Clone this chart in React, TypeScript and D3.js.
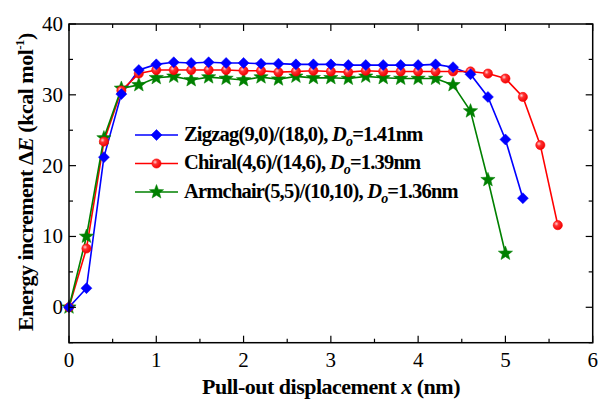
import React from "react";
import * as d3 from "d3";

const xs = [0, 0.2, 0.4, 0.6, 0.8, 1.0, 1.2, 1.4, 1.6, 1.8, 2.0, 2.2, 2.4, 2.6, 2.8, 3.0, 3.2, 3.4, 3.6, 3.8, 4.0, 4.2, 4.4, 4.6, 4.8, 5.0, 5.2, 5.4, 5.6];
const zigzag = [0, 2.7, 21.2, 30.1, 33.5, 34.3, 34.6, 34.5, 34.6, 34.5, 34.5, 34.4, 34.4, 34.3, 34.3, 34.3, 34.2, 34.2, 34.2, 34.2, 34.2, 34.3, 33.9, 32.9, 29.7, 23.7, 15.4];
const chiral = [0, 8.3, 23.4, 30.6, 33.0, 33.5, 33.5, 33.5, 33.5, 33.5, 33.4, 33.4, 33.2, 33.3, 33.4, 33.3, 33.2, 33.4, 33.3, 33.3, 33.3, 33.3, 33.3, 33.3, 33.0, 32.3, 29.7, 22.9, 11.6];
const armchair = [0, 10.0, 23.9, 30.9, 31.4, 32.4, 32.6, 32.1, 32.5, 32.3, 32.1, 32.5, 32.2, 32.6, 32.4, 32.4, 32.3, 32.6, 32.4, 32.3, 32.3, 32.3, 31.4, 27.7, 18.0, 7.6];
const xTicks = [0, 1, 2, 3, 4, 5, 6];
const yTicks = [0, 10, 20, 30, 40];

const L = 69, R = 592.7, T = 24, B = 342.7;
const FONT = '"Liberation Serif"';

function starPath(cx: number, cy: number, ro: number, ri: number) {
  const pts: string[] = [];
  for (let i = 0; i < 10; i++) {
    const r = i % 2 === 0 ? ro : ri;
    const a = -Math.PI / 2 + (i * Math.PI) / 5;
    pts.push(`${cx + r * Math.cos(a)},${cy + r * Math.sin(a)}`);
  }
  return "M" + pts.join("L") + "Z";
}

function Marker({ kind, x, y }: { kind: string; x: number; y: number }) {
  if (kind === "diamond") {
    const s = 5.5;
    return <path d={`M${x},${y - s}L${x + s},${y}L${x},${y + s}L${x - s},${y}Z`} fill="#0000ff" stroke="#0000ff" strokeWidth={0.5} />;
  }
  if (kind === "circle") {
    return <circle cx={x} cy={y} r={4.6} fill="url(#redball)" stroke="#ff0000" strokeWidth={0.6} />;
  }
  return <path d={starPath(x, y, 7.5, 3.2)} fill="#008000" stroke="#008000" strokeWidth={0.5} />;
}

export default function App() {
  const x = d3.scaleLinear().domain([0, 6]).range([L, R]);
  const y = d3.scaleLinear().domain([-5, 40]).range([B, T]);
  const series = [
    { name: "Zigzag(9,0)/(18,0), ", d: "1.41nm", vals: zigzag, color: "#0000ff", kind: "diamond" },
    { name: "Chiral(4,6)/(14,6), ", d: "1.39nm", vals: chiral, color: "#ff0000", kind: "circle" },
    { name: "Armchair(5,5)/(10,10), ", d: "1.36nm", vals: armchair, color: "#008000", kind: "star" },
  ];
  const line = d3.line<number>().x((_, i) => x(xs[i])).y((v) => y(v));
  const xMinor = d3.range(0, 6.01, 0.5);
  const yMinor = d3.range(-5, 40.01, 5);
  const tf = { fontFamily: FONT };
  return (
    <svg width={601} height={403} style={{ position: "absolute", left: 0, top: 0, background: "#fff" }}>
      <defs>
        <radialGradient id="redball" cx="0.35" cy="0.35" r="0.7">
          <stop offset="0" stopColor="#ffd0d0" />
          <stop offset="0.35" stopColor="#ff3030" />
          <stop offset="1" stopColor="#ee0000" />
        </radialGradient>
      </defs>
      {series.map((s) => (
        <path key={s.name + "l"} d={line(s.vals) || ""} fill="none" stroke={s.color} strokeWidth={1.6} />
      ))}
      {[series[2], series[1], series[0]].map((s) =>
        s.vals.map((v, i) => <Marker key={s.name + i} kind={s.kind} x={x(xs[i])} y={y(v)} />)
      )}
      <rect x={L} y={T} width={R - L} height={B - T} fill="none" stroke="#000" strokeWidth={1.5} />
      {xMinor.map((t) => {
        const major = Math.abs(t - Math.round(t)) < 1e-6;
        const len = major ? 7 : 4;
        return (
          <g key={"xt" + t}>
            <line x1={x(t)} x2={x(t)} y1={B} y2={B - len} stroke="#000" strokeWidth={1.2} />
            <line x1={x(t)} x2={x(t)} y1={T} y2={T + len} stroke="#000" strokeWidth={1.2} />
          </g>
        );
      })}
      {yMinor.map((t) => {
        const major = t % 10 === 0;
        const len = major ? 7 : 4;
        return (
          <g key={"yt" + t}>
            <line x1={L} x2={L + len} y1={y(t)} y2={y(t)} stroke="#000" strokeWidth={1.2} />
            <line x1={R} x2={R - len} y1={y(t)} y2={y(t)} stroke="#000" strokeWidth={1.2} />
          </g>
        );
      })}
      {xTicks.map((t) => (
        <text key={"xl" + t} x={x(t)} y={B + 24} textAnchor="middle" fontSize={21} style={tf}>
          {t}
        </text>
      ))}
      {yTicks.map((t) => (
        <text key={"yl" + t} x={L - 6} y={y(t) + 7} textAnchor="end" fontSize={21} style={tf}>
          {t}
        </text>
      ))}
      <text x={331} y={394} textAnchor="middle" fontSize={22} fontWeight="bold" letterSpacing={-0.5} style={tf}>
        Pull-out displacement <tspan fontStyle="italic">x</tspan> (nm)
      </text>
      <text transform={`translate(33,182) rotate(-90)`} textAnchor="middle" fontSize={22} fontWeight="bold" letterSpacing={-0.5} style={tf}>
        Energy increment Δ<tspan fontStyle="italic">E</tspan> (kcal mol<tspan fontSize={13} dy={-9}>-1</tspan><tspan dy={9}>)</tspan>
      </text>
      {series.map((s, i) => {
        const ly = 135 + i * 28.5;
        return (
          <g key={"lg" + i}>
            <line x1={135} x2={178} y1={ly} y2={ly} stroke={s.color} strokeWidth={1.6} />
            <Marker kind={s.kind} x={156.5} y={ly} />
            <text x={184} y={ly + 5.5} fontSize={20.5} fontWeight="bold" letterSpacing={-0.8} style={tf}>
              {s.name}
              <tspan fontStyle="italic">D</tspan>
              <tspan fontStyle="italic" fontSize={14} dy={5}>o</tspan>
              <tspan dy={-5}>=</tspan>
              {s.d}
            </text>
          </g>
        );
      })}
    </svg>
  );
}
